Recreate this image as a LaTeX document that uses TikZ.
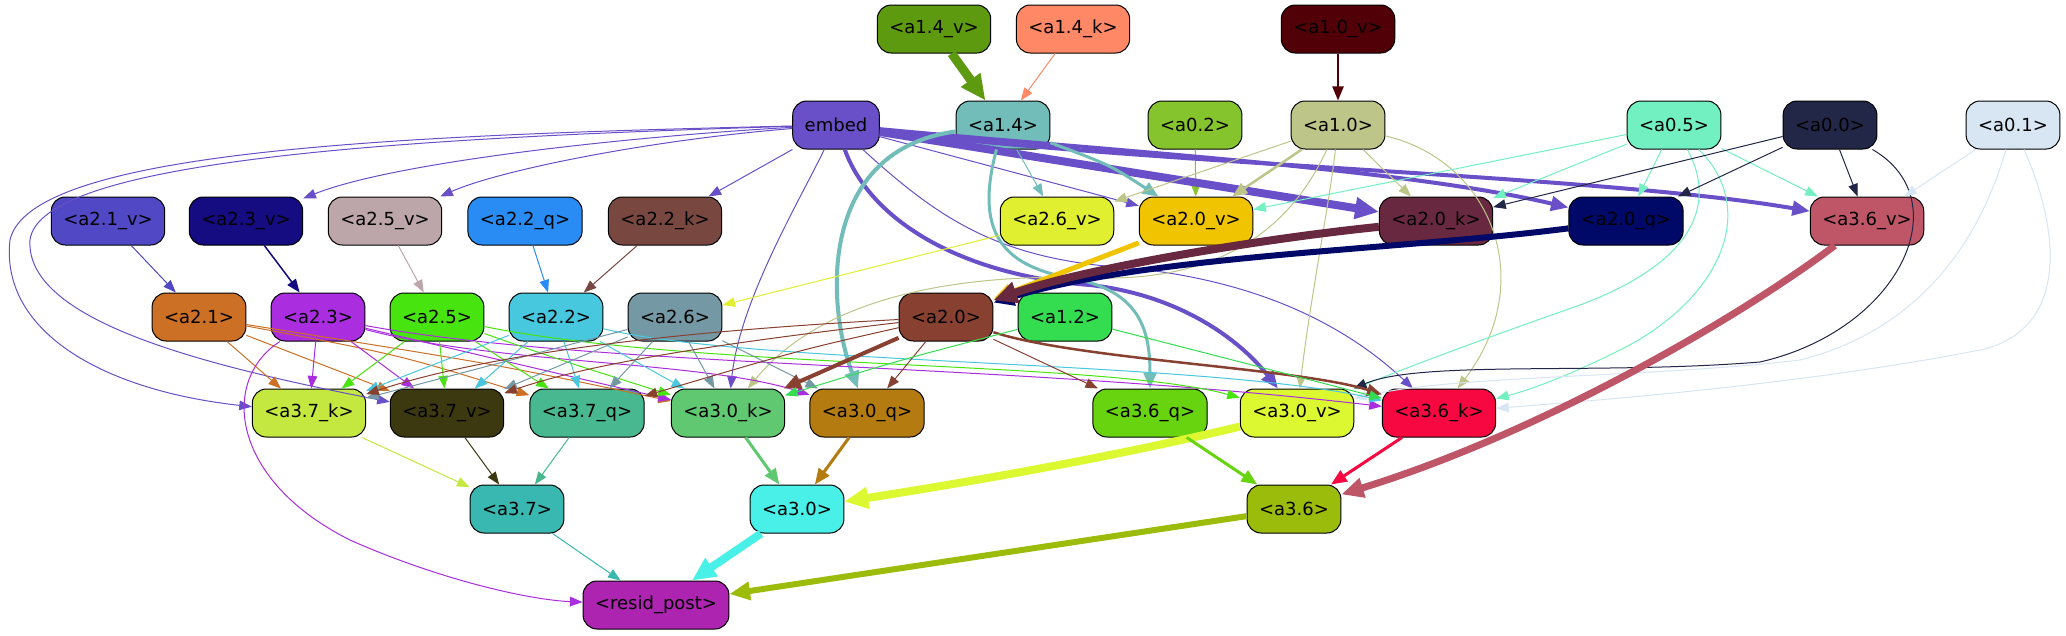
\documentclass[tikz,border=0pt]{standalone}
\usepackage{fontspec}
\setmainfont{DejaVu Sans}
\usetikzlibrary{arrows.meta}

\definecolor{cemb}{HTML}{6A50C8}
\definecolor{c14v}{HTML}{5E9A0F}
\definecolor{c14k}{HTML}{FF8866}
\definecolor{c10v}{HTML}{520008}
\definecolor{c14}{HTML}{72BDB9}
\definecolor{c02}{HTML}{86C42E}
\definecolor{c10}{HTML}{BDC688}
\definecolor{c05}{HTML}{72F0C1}
\definecolor{c00}{HTML}{222647}
\definecolor{c01}{HTML}{D8E6F4}
\definecolor{c21v}{HTML}{5048C4}
\definecolor{c23v}{HTML}{140C80}
\definecolor{c25v}{HTML}{BCA6AA}
\definecolor{c22q}{HTML}{288CF4}
\definecolor{c22k}{HTML}{784840}
\definecolor{c26v}{HTML}{E0F030}
\definecolor{c20v}{HTML}{F0C400}
\definecolor{c20k}{HTML}{68283F}
\definecolor{c20q}{HTML}{000868}
\definecolor{c36v}{HTML}{BE5668}
\definecolor{c21}{HTML}{CC7026}
\definecolor{c23}{HTML}{AA2EE0}
\definecolor{c25}{HTML}{48E410}
\definecolor{c22}{HTML}{48C8DE}
\definecolor{c26}{HTML}{7498A4}
\definecolor{c20}{HTML}{884030}
\definecolor{c12}{HTML}{34DC50}
\definecolor{c37k}{HTML}{C4E840}
\definecolor{c37v}{HTML}{3C3810}
\definecolor{c37q}{HTML}{48B890}
\definecolor{c30k}{HTML}{60C870}
\definecolor{c30q}{HTML}{B47C10}
\definecolor{c36q}{HTML}{68D410}
\definecolor{c30v}{HTML}{DCF830}
\definecolor{c36k}{HTML}{F80840}
\definecolor{c37}{HTML}{38B8B0}
\definecolor{c30}{HTML}{48F0E8}
\definecolor{c36}{HTML}{9CBC0C}
\definecolor{cres}{HTML}{AC24B0}

\begin{document}
\begin{tikzpicture}[
  x=1pt, y=-1pt,
  font=\fontsize{18pt}{20pt}\selectfont,
  box/.style={draw=black, line width=1pt, rounded corners=14pt, fill=#1,
              minimum height=48pt, inner xsep=12pt, inner ysep=4pt},
  arr/.style={-{Triangle[length=11pt 1.6, width=8pt 1.6]}, draw=#1, line width=1pt}
]
\fill[white] (0,0) rectangle (2066,635);
\useasboundingbox (0,0) rectangle (2066,635);

% inputs
\node[box=c14v] (a14v) at (934,29) {<a1.4\_v>};
\node[box=c14k] (a14k) at (1073,29) {<a1.4\_k>};
\node[box=c10v] (a10v) at (1338,29) {<a1.0\_v>};
\node[box=cemb] (embed) at (836,125) {embed};
\node[box=c14] (a14) at (1003,125) {<a1.4>};
\node[box=c02] (a02) at (1195,125) {<a0.2>};
\node[box=c10] (a10) at (1338,125) {<a1.0>};
\node[box=c05] (a05) at (1674,125) {<a0.5>};
\node[box=c00] (a00) at (1830,125) {<a0.0>};
\node[box=c01] (a01) at (2013,125) {<a0.1>};

% layer 2 heads
\node[box=c21v] (a21v) at (108,221) {<a2.1\_v>};
\node[box=c23v] (a23v) at (246,221) {<a2.3\_v>};
\node[box=c25v] (a25v) at (385,221) {<a2.5\_v>};
\node[box=c22q] (a22q) at (525,221) {<a2.2\_q>};
\node[box=c22k] (a22k) at (665,221) {<a2.2\_k>};
\node[box=c26v] (a26v) at (1057,221) {<a2.6\_v>};
\node[box=c20v] (a20v) at (1196,221) {<a2.0\_v>};
\node[box=c20k] (a20k) at (1436,221) {<a2.0\_k>};
\node[box=c20q] (a20q) at (1626,221) {<a2.0\_q>};
\node[box=c36v] (a36v) at (1867,221) {<a3.6\_v>};

\node[box=c21] (a21) at (199,317) {<a2.1>};
\node[box=c23] (a23) at (318,317) {<a2.3>};
\node[box=c25] (a25) at (437,317) {<a2.5>};
\node[box=c22] (a22) at (556,317) {<a2.2>};
\node[box=c26] (a26) at (675,317) {<a2.6>};
\node[box=c20] (a20) at (946,317) {<a2.0>};
\node[box=c12] (a12) at (1065,317) {<a1.2>};

% layer 3 heads
\node[box=c37k] (a37k) at (309,413) {<a3.7\_k>};
\node[box=c37v] (a37v) at (447,413) {<a3.7\_v>};
\node[box=c37q] (a37q) at (587,413) {<a3.7\_q>};
\node[box=c30k] (a30k) at (728,413) {<a3.0\_k>};
\node[box=c30q] (a30q) at (867,413) {<a3.0\_q>};
\node[box=c36q] (a36q) at (1150,413) {<a3.6\_q>};
\node[box=c30v] (a30v) at (1297,413) {<a3.0\_v>};
\node[box=c36k] (a36k) at (1439,413) {<a3.6\_k>};

\node[box=c37] (a37) at (517,509) {<a3.7>};
\node[box=c30] (a30) at (797,509) {<a3.0>};
\node[box=c36] (a36) at (1294,509) {<a3.6>};
\node[box=cres] (res) at (656,605) {<resid\_post>};

% top
\draw[arr=c14v, line width=9pt] (a14v) -- (a14);
\draw[arr=c14k] (a14k) -- (a14);
\draw[arr=c10v, line width=2pt] (a10v) -- (a10);
\draw[arr=c02] (a02) -- (a20v);

% embed
\draw[arr=cemb] (embed) .. controls (650,135) and (400,160) .. (a23v);
\draw[arr=cemb] (embed) .. controls (650,140) and (500,170) .. (a25v);
\draw[arr=cemb] (embed) -- (a22k);
\draw[arr=cemb] (embed) .. controls (400,135) and (30,150) .. (10,240) .. controls (0,330) and (100,390) .. (a37k);
\draw[arr=cemb] (embed) .. controls (400,138) and (40,160) .. (30,240) .. controls (25,320) and (200,365) .. (a37v);
\draw[arr=cemb] (embed) .. controls (800,200) and (740,300) .. (a30k);
\draw[arr=cemb] (embed) -- (a20v);
\draw[arr=cemb, line width=8pt] (embed) -- (a20k);
\draw[arr=cemb, line width=4pt] (embed) .. controls (1100,150) and (1400,168) .. (a20q);
\draw[arr=cemb, line width=4pt] (embed) .. controls (1150,165) and (1600,175) .. (a36v);
\draw[arr=cemb, line width=4pt] (embed) .. controls (870,220) and (960,275) .. (1090,285) .. controls (1180,295) and (1240,340) .. (a30v);
\draw[arr=cemb] (embed) .. controls (940,220) and (1000,260) .. (1130,268) .. controls (1250,280) and (1340,320) .. (a36k);

% a1.4
\draw[arr=c14] (a14) -- (a26v);
\draw[arr=c14, line width=3pt] (a14) .. controls (1110,165) .. (a20v);
\draw[arr=c14, line width=4pt] (a14) .. controls (820,150) and (825,300) .. (a30q);
\draw[arr=c14, line width=3pt] (a14) .. controls (975,230) and (1000,265) .. (1070,278) .. controls (1140,290) and (1150,330) .. (a36q);

% a1.0
\draw[arr=c10] (a10) -- (a26v);
\draw[arr=c10, line width=2.5pt] (a10) -- (a20v);
\draw[arr=c10] (a10) -- (a20k);
\draw[arr=c10] (a10) .. controls (1290,230) and (1220,280) .. (1100,278) .. controls (950,272) and (820,300) .. (a30k);
\draw[arr=c10] (a10) .. controls (1330,200) and (1310,300) .. (a30v);
\draw[arr=c10] (a10) .. controls (1490,160) and (1540,280) .. (a36k);

% a0.5
\draw[arr=c05] (a05) -- (a20v);
\draw[arr=c05] (a05) -- (a20k);
\draw[arr=c05] (a05) -- (a20q);
\draw[arr=c05] (a05) -- (a36v);
\draw[arr=c05] (a05) .. controls (1715,200) and (1700,260) .. (1580,305) .. controls (1480,340) and (1400,370) .. (a30v);
\draw[arr=c05] (a05) .. controls (1760,210) and (1720,300) .. (1620,350) .. controls (1570,375) and (1530,390) .. (a36k);

% a0.0
\draw[arr=c00] (a00) -- (a20k);
\draw[arr=c00] (a00) -- (a20q);
\draw[arr=c00] (a00) -- (a36v);
\draw[arr=c00] (a00) .. controls (1960,200) and (1900,330) .. (1760,362) .. controls (1600,375) and (1420,360) .. (a30v);

% a0.1
\draw[arr=c01] (a01) -- (a36v);
\draw[arr=c01] (a01) .. controls (1980,240) and (1920,330) .. (1800,360) .. controls (1650,378) and (1450,375) .. (a30v);
\draw[arr=c01] (a01) .. controls (2060,230) and (2070,330) .. (1980,350) .. controls (1800,385) and (1600,400) .. (a36k);

% layer 2
\draw[arr=c21v] (a21v) -- (a21);
\draw[arr=c23v, line width=1.5pt] (a23v) -- (a23);
\draw[arr=c25v] (a25v) -- (a25);
\draw[arr=c22q] (a22q) -- (a22);
\draw[arr=c22k] (a22k) -- (a22);
\draw[arr=c26v] (a26v) -- (a26);
\draw[arr=c20v, line width=5pt] (a20v) -- (a20);
\draw[arr=c20q, line width=6pt] (a20q) .. controls (1400,250) and (1150,255) .. (a20);
\draw[arr=c20k, line width=8pt] (a20k) .. controls (1250,240) and (1080,270) .. (a20);

\draw[arr=c21] (a21) -- (a37k);
\draw[arr=c21] (a21) -- (a37v);
\draw[arr=c21] (a21) .. controls (400,355) .. (a37q);
\draw[arr=c21] (a21) .. controls (500,365) .. (a30k);

\draw[arr=c23] (a23) -- (a37k);
\draw[arr=c23] (a23) -- (a37v);
\draw[arr=c23] (a23) .. controls (500,360) .. (a30k);
\draw[arr=c23] (a23) .. controls (500,365) and (700,360) .. (a30q);
\draw[arr=c23] (a23) .. controls (600,368) and (1000,362) .. (a36k);
\draw[arr=c23] (a23) .. controls (220,380) and (230,480) .. (350,540) .. controls (440,580) and (530,600) .. (res);

\draw[arr=c25] (a25) -- (a37k);
\draw[arr=c25] (a25) -- (a37v);
\draw[arr=c25] (a25) -- (a37q);
\draw[arr=c25] (a25) .. controls (560,360) .. (a30k);
\draw[arr=c25] (a25) .. controls (700,370) and (1100,360) .. (a30v);

\draw[arr=c22] (a22) -- (a37k);
\draw[arr=c22] (a22) -- (a37v);
\draw[arr=c22] (a22) -- (a37q);
\draw[arr=c22] (a22) -- (a30k);
\draw[arr=c22] (a22) .. controls (750,365) and (1200,360) .. (a36k);

\draw[arr=c26] (a26) -- (a37k);
\draw[arr=c26] (a26) -- (a37v);
\draw[arr=c26] (a26) -- (a37q);
\draw[arr=c26] (a26) -- (a30k);
\draw[arr=c26] (a26) -- (a30q);

\draw[arr=c20] (a20) .. controls (700,330) and (500,350) .. (a37k);
\draw[arr=c20] (a20) .. controls (750,340) and (600,360) .. (a37v);
\draw[arr=c20] (a20) .. controls (800,350) .. (a37q);
\draw[arr=c20, line width=4pt] (a20) -- (a30k);
\draw[arr=c20] (a20) -- (a30q);
\draw[arr=c20] (a20) -- (a36q);
\draw[arr=c20, line width=2.5pt] (a20) .. controls (1080,360) and (1300,368) .. (a36k);

\draw[arr=c12] (a12) .. controls (900,360) .. (a30k);
\draw[arr=c12] (a12) -- (a36k);

% layer 3
\draw[arr=c37k] (a37k) -- (a37);
\draw[arr=c37v] (a37v) -- (a37);
\draw[arr=c37q] (a37q) -- (a37);
\draw[arr=c30k, line width=3pt] (a30k) -- (a30);
\draw[arr=c30q, line width=3pt] (a30q) -- (a30);
\draw[arr=c30v, line width=8pt] (a30v) .. controls (1100,460) and (950,485) .. (a30);
\draw[arr=c36q, line width=3pt] (a36q) -- (a36);
\draw[arr=c36k, line width=3pt] (a36k) -- (a36);
\draw[arr=c36v, line width=7pt] (a36v) .. controls (1750,310) and (1550,430) .. (a36);

\draw[arr=c37] (a37) -- (res);
\draw[arr=c30, line width=8pt] (a30) -- (res);
\draw[arr=c36, line width=6pt] (a36) -- (res);
\end{tikzpicture}
\end{document}
